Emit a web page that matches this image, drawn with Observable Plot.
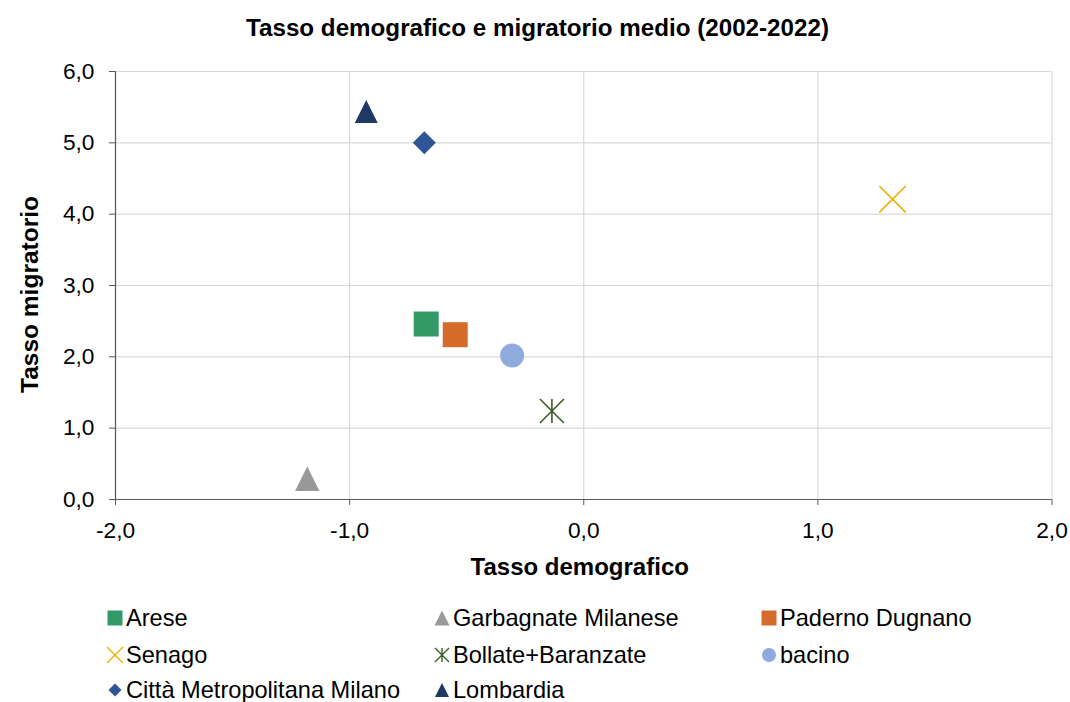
<!DOCTYPE html>
<html>
<head>
<meta charset="utf-8">
<script src="https://cdn.jsdelivr.net/npm/d3@7"></script>
<script src="https://cdn.jsdelivr.net/npm/@observablehq/plot@0.6"></script>
<style>
  html, body { margin: 0; padding: 0; background: #fff; }
  #wrap { position: relative; width: 1070px; height: 702px; font-family: "Liberation Sans", Arial, sans-serif; color: #000; }
  #title { position: absolute; top: 14px; left: 0; width: 1075px; text-align: center; font-weight: bold; font-size: 24.2px; line-height: 28px; }
  #chart { position: absolute; top: 50px; left: 0; }
  #legend { position: absolute; top: 600px; left: 0; width: 1070px; }
  .item { position: absolute; height: 30px; display: flex; align-items: center; font-size: 23.6px; line-height: 30px; white-space: nowrap; }
  .item svg { margin-right: 2px; }
</style>
</head>
<body>
<div id="wrap">
  <div id="title">Tasso demografico e migratorio medio (2002-2022)</div>
  <div id="chart"></div>
  <div id="legend"></div>
</div>
<script>
// ---- data ----
const series = ["Arese", "Garbagnate Milanese", "Paderno Dugnano", "Senago", "Bollate+Baranzate", "bacino", "Città Metropolitana Milano", "Lombardia"];
const tassoDemografico = [-0.673, -1.181, -0.549, 1.319, -0.136, -0.306, -0.681, -0.929];
const tassoMigratorio = [2.46, 0.29, 2.31, 4.21, 1.24, 2.02, 5.00, 5.44];
const xTicks = [-2, -1, 0, 1, 2];
const yTicks = [0, 1, 2, 3, 4, 5, 6];

// ---- custom symbols (half-extent h = r) ----
const hOf = size => Math.sqrt(size / Math.PI);
const sym = {
  square: { draw(c, s) { const h = hOf(s); c.rect(-h, -h, 2 * h, 2 * h); } },
  triangle: { draw(c, s) { const h = hOf(s); c.moveTo(0, -h); c.lineTo(h, h); c.lineTo(-h, h); c.closePath(); } },
  diamond: { draw(c, s) { const h = hOf(s); c.moveTo(0, -h); c.lineTo(h, 0); c.lineTo(0, h); c.lineTo(-h, 0); c.closePath(); } },
  circle: { draw(c, s) { const h = hOf(s); c.moveTo(h, 0); c.arc(0, 0, h, 0, 2 * Math.PI); } },
  cross: { draw(c, s) { const h = hOf(s); c.moveTo(-h, -h); c.lineTo(h, h); c.moveTo(h, -h); c.lineTo(-h, h); } },
  star: { draw(c, s) { const h = hOf(s); c.moveTo(-h, -h); c.lineTo(h, h); c.moveTo(h, -h); c.lineTo(-h, h); c.moveTo(0, -h); c.lineTo(0, h); } }
};

// style per series (same order as series)
const styles = [
  { symbol: sym.square, color: "#339966", filled: true, r: 12.5, lr: 7.5 },
  { symbol: sym.triangle, color: "#999999", filled: true, r: 12.2, lr: 7.5 },
  { symbol: sym.square, color: "#D56C2C", filled: true, r: 12.5, lr: 7.5 },
  { symbol: sym.cross, color: "#EDB100", filled: false, r: 13.2, lr: 8 },
  { symbol: sym.star, color: "#3B5E27", filled: false, r: 12, lr: 7 },
  { symbol: sym.circle, color: "#8FAADC", filled: true, r: 12, lr: 7 },
  { symbol: sym.diamond, color: "#2F5597", filled: true, r: 11.5, lr: 6.5 },
  { symbol: sym.triangle, color: "#1F3864", filled: true, r: 11.5, lr: 7 }
];

const rows = series.map((name, i) => ({ name, x: tassoDemografico[i], y: tassoMigratorio[i] }));
const fmt = d => d.toFixed(1).replace(".", ",");

const dots = rows.map((row, i) => {
  const st = styles[i];
  return Plot.dot([row], {
    x: "x", y: "y", r: st.r, symbol: st.symbol,
    fill: st.filled ? st.color : "none",
    stroke: st.filled ? "none" : st.color,
    strokeWidth: st.filled ? 0 : 1.6
  });
});

const chart = Plot.plot({
  width: 1070,
  height: 540,
  marginTop: 21,
  marginBottom: 91,
  marginLeft: 115,
  marginRight: 18.5,
  x: { domain: [-2, 2] },
  y: { domain: [0, 6] },
  style: { fontFamily: "'Liberation Sans', Arial, sans-serif", fontSize: "22.7px", color: "#000", background: "#fff", overflow: "visible" },
  marks: [
    Plot.gridX(xTicks, { stroke: "#d9d9d9", strokeOpacity: 1, strokeWidth: 1.2 }),
    Plot.gridY(yTicks, { stroke: "#d9d9d9", strokeOpacity: 1, strokeWidth: 1.2 }),
    Plot.axisX(xTicks, { tickFormat: fmt, tickSize: 6, tickPadding: 16, stroke: "#595959", fill: "#000", label: null, fontSize: 22.7 }),
    Plot.axisY(yTicks, { tickFormat: fmt, tickSize: 6, tickPadding: 15, stroke: "#595959", fill: "#000", label: null, fontSize: 22.7 }),
    Plot.ruleX([-2], { stroke: "#595959", strokeWidth: 1.2 }),
    Plot.ruleY([0], { stroke: "#595959", strokeWidth: 1.2 }),
    ...dots,
    Plot.text(["Tasso demografico"], { text: d => d, frameAnchor: "bottom", lineAnchor: "middle", textAnchor: "middle", dx: -4, dy: 68, fontWeight: "bold", fontSize: 24, fill: "#000" }),
    Plot.text(["Tasso migratorio"], { text: d => d, frameAnchor: "left", textAnchor: "middle", lineAnchor: "middle", dx: -85, dy: 9, rotate: -90, fontWeight: "bold", fontSize: 24.5, fill: "#000" })
  ]
});
document.getElementById("chart").appendChild(chart);

// ---- legend ----
const colX = [106, 433, 760];
const rowY = [618, 655, 690];
const legend = document.getElementById("legend");
series.forEach((name, i) => {
  const st = styles[i];
  const col = i % 3, row = Math.floor(i / 3);
  const div = document.createElement("div");
  div.className = "item";
  div.style.left = colX[col] + "px";
  div.style.top = (rowY[row] - 600 - 15) + "px";
  const size = 18;
  const svg = d3.create("svg").attr("width", size).attr("height", size);
  svg.append("path")
    .attr("transform", `translate(${size / 2},${size / 2})`)
    .attr("d", d3.symbol(st.symbol, Math.PI * st.lr * st.lr)())
    .attr("fill", st.filled ? st.color : "none")
    .attr("stroke", st.filled ? "none" : st.color)
    .attr("stroke-width", st.filled ? 0 : 1.4);
  div.appendChild(svg.node());
  const span = document.createElement("span");
  span.textContent = name;
  div.appendChild(span);
  legend.appendChild(div);
});
</script>
</body>
</html>
